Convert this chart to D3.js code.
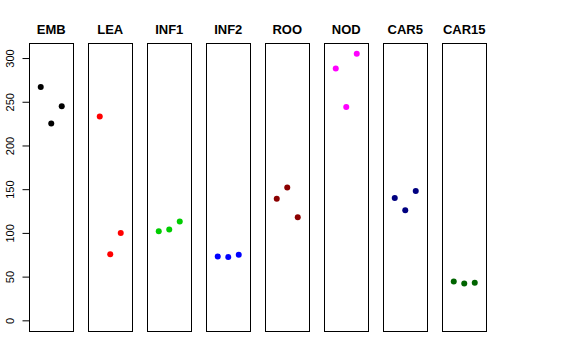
<!DOCTYPE html>
<html><head><meta charset="utf-8">
<script src="https://cdn.jsdelivr.net/npm/d3@7"></script>
<style>body{margin:0;background:#fff}svg{display:block}</style>
</head><body>
<svg id="c" width="576" height="360"></svg>
<script>
const categories = ["EMB","LEA","INF1","INF2","ROO","NOD","CAR5","CAR15"];
const colors = ["#000000","#FF0000","#00CD00","#0000FF","#8B0000","#FF00FF","#000080","#006400"];
const EMB = [267, 225, 245];
const LEA = [233, 75.5, 100];
const INF1 = [102, 104, 113];
const INF2 = [73, 72.5, 75];
const ROO = [139, 152, 118];
const NOD = [288, 244, 305];
const CAR5 = [140, 126, 148];
const CAR15 = [44.5, 42, 43];
const seriesValues = [EMB, LEA, INF1, INF2, ROO, NOD, CAR5, CAR15];
const yTicks = [0, 50, 100, 150, 200, 250, 300];

const svg = d3.select("#c");
const ymin = 0, ymax = 305, ext = (ymax - ymin) * 0.04;
const y = d3.scaleLinear().domain([ymin - ext, ymax + ext]).range([331, 43]);
const xBand = d3.scaleBand().domain(categories).range([29, 486.5]).paddingInner(0.246).paddingOuter(0);

categories.forEach((cat, i) => {
  const x0 = xBand(cat), bw = xBand.bandwidth(), cx = x0 + bw / 2;
  const xp = d3.scalePoint().domain([0,1,2]).range([cx - 10.5, cx + 10.5]);
  const g = svg.append("g");
  g.append("rect").attr("x", Math.round(x0) + 0.5).attr("y", 43.5)
    .attr("width", Math.round(bw)).attr("height", 288)
    .attr("fill", "none").attr("stroke", "#000").attr("stroke-width", 1);
  g.append("text").attr("x", cx).attr("y", 34).attr("text-anchor", "middle")
    .attr("font-family", "Liberation Sans, Arial, sans-serif").attr("font-weight", "bold")
    .attr("font-size", 13).text(cat);
  g.selectAll("circle").data(seriesValues[i]).join("circle")
    .attr("cx", (d, j) => xp(j)).attr("cy", d => y(d)).attr("r", 3)
    .attr("fill", colors[i]);
});

const axis = d3.axisLeft(y).tickValues(yTicks).tickSize(7).tickSizeOuter(0).tickPadding(0);
const ag = svg.append("g").attr("transform", "translate(29.5,0)").call(axis);
ag.select(".domain").attr("d", `M0,${y(0)}V${y(300)}`).attr("stroke", "#000");
ag.selectAll(".tick line").attr("stroke", "#000");
ag.selectAll(".tick text")
  .attr("font-family", "Liberation Sans, Arial, sans-serif").attr("font-size", 11)
  .attr("fill", "#000").attr("text-anchor", "middle")
  .attr("x", null).attr("dy", null)
  .attr("transform", "translate(-15.5,0) rotate(-90)")
  .attr("y", 0);
</script>
</body></html>
